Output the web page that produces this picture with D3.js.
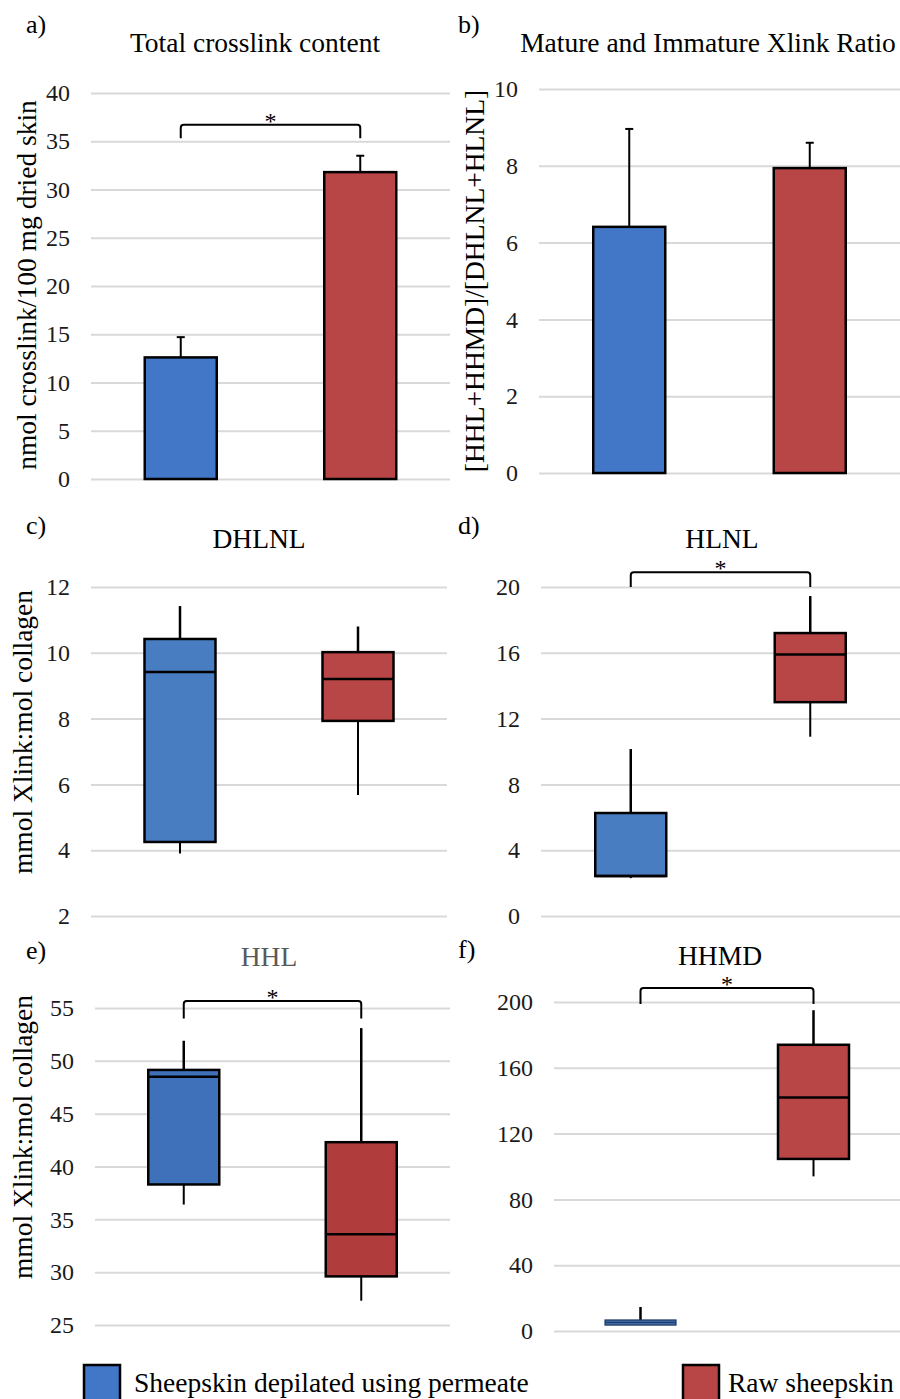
<!DOCTYPE html>
<html>
<head>
<meta charset="utf-8">
<script src="https://cdn.jsdelivr.net/npm/d3@7"></script>
<style>
  body { margin: 0; background: #fff; }
  text { font-family: "Liberation Serif", "Times New Roman", serif; }
</style>
</head>
<body>
<div id="chart"></div>
<script>
// groups and colours
var groups = ["Sheepskin depilated using permeate", "Raw sheepskin"];
var colors = ["#4277c7", "#b84646"];

// a) total crosslink content: mean and upper error
var totalMean = [12.6, 31.8];
var totalErr = [2.1, 1.7];
var totalTicks = [0, 5, 10, 15, 20, 25, 30, 35, 40];

// b) mature / immature ratio
var ratioMean = [6.41, 7.94];
var ratioErr = [2.55, 0.66];
var ratioTicks = [0, 2, 4, 6, 8, 10];

// box plots: [min, q1, median, q3, max]
var dhlnl = [[3.9, 4.25, 9.42, 10.42, 11.42], [5.68, 7.93, 9.2, 10.02, 10.8]];
var dhlnlTicks = [2, 4, 6, 8, 10, 12];

var hlnl = [[2.3, 2.43, 2.43, 6.26, 10.15], [10.9, 13.0, 15.9, 17.2, 19.45]];
var hlnlTicks = [0, 4, 8, 12, 16, 20];

var hhl = [[36.4, 38.3, 48.5, 49.14, 51.9], [27.3, 29.6, 33.6, 42.3, 53.1]];
var hhlTicks = [25, 30, 35, 40, 45, 50, 55];

var hhmd = [[3.6, 3.6, 5.2, 6.7, 14.6], [94, 104.6, 142, 174, 195]];
var hhmdTicks = [0, 40, 80, 120, 160, 200];

var svg = d3.select("#chart").append("svg")
    .attr("width", 900)
    .attr("height", 1399);

// draw axis + gridlines, return scales
function frame(p) {
  var y = d3.scaleLinear()
      .domain([p.ticks[0], p.ticks[p.ticks.length - 1]])
      .range([p.bottom, p.top]);
  var x = d3.scalePoint()
      .domain(groups)
      .range([p.x0, p.x1])
      .padding(0.5);

  var ax = svg.append("g")
      .attr("transform", "translate(" + p.x0 + ",0)")
      .call(d3.axisLeft(y).tickValues(p.ticks).tickSize(-(p.x1 - p.x0)).tickPadding(21));
  ax.select(".domain").remove();
  ax.selectAll(".tick line")
      .attr("stroke", "#d9d9d9")
      .attr("stroke-width", 2);
  ax.selectAll(".tick text")
      .attr("font-family", "Liberation Serif, serif")
      .attr("font-size", 24)
      .attr("fill", "#1a1a1a");

  // panel letter and title
  svg.append("text")
      .attr("x", p.lx).attr("y", p.ly)
      .attr("font-size", 26)
      .text(p.letter);
  svg.append("text")
      .attr("x", p.tx).attr("y", p.ty)
      .attr("text-anchor", "middle")
      .attr("font-size", 27.5)
      .attr("fill", p.titleColor || "#000")
      .text(p.title);

  if (p.ylabel) {
    svg.append("text")
        .attr("transform", "translate(" + p.yl[0] + "," + p.yl[1] + ") rotate(-90)")
        .attr("text-anchor", "middle")
        .attr("font-size", 27.5)
        .text(p.ylabel);
  }

  if (p.sig) {
    var xl = x(groups[0]), xr = x(groups[1]);
    var yb = y(p.sig[0]), yt = y(p.sig[1]);
    svg.append("path")
        .attr("d", "M" + xl + "," + yb + "V" + (yt + 3) + "Q" + xl + "," + yt + " " + (xl + 3) + "," + yt +
                   "H" + (xr - 3) + "Q" + xr + "," + yt + " " + xr + "," + (yt + 3) + "V" + yb)
        .attr("fill", "none")
        .attr("stroke", "#000")
        .attr("stroke-width", 2);
    svg.append("text")
        .attr("x", (xl + xr) / 2).attr("y", yt + 4)
        .attr("text-anchor", "middle")
        .attr("font-size", 24)
        .text("*");
  }
  return {x: x, y: y};
}

function barPanel(p, means, errs) {
  var s = frame(p);
  var bw = 72;
  var g = svg.append("g");
  g.selectAll("line.err")
    .data(groups)
    .enter().append("line")
      .attr("x1", d => s.x(d)).attr("x2", d => s.x(d))
      .attr("y1", (d, i) => s.y(means[i]))
      .attr("y2", (d, i) => s.y(means[i] + errs[i]))
      .attr("stroke", "#000").attr("stroke-width", 2);
  g.selectAll("line.cap")
    .data(groups)
    .enter().append("line")
      .attr("x1", d => s.x(d) - 4).attr("x2", d => s.x(d) + 4)
      .attr("y1", (d, i) => s.y(means[i] + errs[i]))
      .attr("y2", (d, i) => s.y(means[i] + errs[i]))
      .attr("stroke", "#000").attr("stroke-width", 2);
  g.selectAll("rect")
    .data(groups)
    .enter().append("rect")
      .attr("x", d => s.x(d) - bw / 2)
      .attr("width", bw)
      .attr("y", (d, i) => s.y(means[i]))
      .attr("height", (d, i) => s.y(0) - s.y(means[i]))
      .attr("fill", (d, i) => colors[i])
      .attr("stroke", "#000").attr("stroke-width", 2.5);
}

function boxPanel(p, stats) {
  var s = frame(p);
  var bw = 71;
  var g = svg.append("g");
  var cols = p.boxColors || colors;
  groups.forEach(function(grp, i) {
    var v = stats[i], cx = s.x(grp);
    var h = s.y(v[1]) - s.y(v[3]);
    // very flat boxes get a thin dark-blue outline, as in the original
    var thin = h < 10;
    g.append("line")
        .attr("x1", cx).attr("x2", cx)
        .attr("y1", s.y(v[0])).attr("y2", s.y(v[1]))
        .attr("stroke", "#000").attr("stroke-width", 2);
    g.append("line")
        .attr("x1", cx).attr("x2", cx)
        .attr("y1", s.y(v[3])).attr("y2", s.y(v[4]))
        .attr("stroke", "#000").attr("stroke-width", 2.5);
    g.append("rect")
        .attr("x", cx - bw / 2).attr("width", bw)
        .attr("y", s.y(v[3]))
        .attr("height", h)
        .attr("fill", cols[i])
        .attr("stroke", thin ? "#1f3a66" : "#000")
        .attr("stroke-width", thin ? 1.2 : 2.5);
    g.append("line")
        .attr("x1", cx - bw / 2).attr("x2", cx + bw / 2)
        .attr("y1", s.y(v[2])).attr("y2", s.y(v[2]))
        .attr("stroke", thin ? "#1f3a66" : "#000")
        .attr("stroke-width", thin ? 1 : 2.5);
  });
}

barPanel({letter: "a)", lx: 26, ly: 33, title: "Total crosslink content", tx: 255, ty: 52,
          ylabel: "nmol crosslink/100 mg dried skin", yl: [36, 285],
          ticks: totalTicks, x0: 91, x1: 450, top: 93, bottom: 479, sig: [35.3, 36.7]},
         totalMean, totalErr);

barPanel({letter: "b)", lx: 458, ly: 33, title: "Mature and Immature Xlink Ratio", tx: 708, ty: 52,
          ylabel: "[HHL+HHMD]/[DHLNL+HLNL]", yl: [484, 281],
          ticks: ratioTicks, x0: 539, x1: 900, top: 89, bottom: 473},
         ratioMean, ratioErr);

boxPanel({letter: "c)", lx: 26, ly: 534, title: "DHLNL", tx: 259, ty: 548,
          ylabel: "mmol Xlink:mol collagen", yl: [32, 732],
          ticks: dhlnlTicks, x0: 91, x1: 447, top: 587, bottom: 916,
          boxColors: ["#487dc2", "#b84646"]}, dhlnl);

boxPanel({letter: "d)", lx: 458, ly: 534, title: "HLNL", tx: 722, ty: 548,
          ticks: hlnlTicks, x0: 541, x1: 900, top: 587, bottom: 916, sig: [20, 20.9],
          boxColors: ["#487dc2", "#b84646"]}, hlnl);

boxPanel({letter: "e)", lx: 26, ly: 959, title: "HHL", titleColor: "#595959", tx: 269, ty: 966,
          ylabel: "mmol Xlink:mol collagen", yl: [32, 1137],
          ticks: hhlTicks, x0: 95, x1: 450, top: 1008, bottom: 1325, sig: [54.0, 55.66],
          boxColors: ["#3e71ba", "#b03c3c"]}, hhl);

boxPanel({letter: "f)", lx: 458, ly: 958, title: "HHMD", tx: 720, ty: 965,
          ticks: hhmdTicks, x0: 554, x1: 900, top: 1002, bottom: 1331, sig: [198.8, 208.5],
          boxColors: ["#3e6aa8", "#b84646"]}, hhmd);

// legend
var legend = svg.append("g");
var legendX = [84, 683];
var legendTextX = [134, 728];
legend.selectAll("rect")
  .data(groups)
  .enter().append("rect")
    .attr("x", (d, i) => legendX[i])
    .attr("y", 1365)
    .attr("width", 36).attr("height", 40)
    .attr("fill", (d, i) => colors[i])
    .attr("stroke", "#000").attr("stroke-width", 2.5);
legend.selectAll("text")
  .data(groups)
  .enter().append("text")
    .attr("x", (d, i) => legendTextX[i])
    .attr("y", 1392)
    .attr("font-size", 27.5)
    .text(d => d);
</script>
</body>
</html>
